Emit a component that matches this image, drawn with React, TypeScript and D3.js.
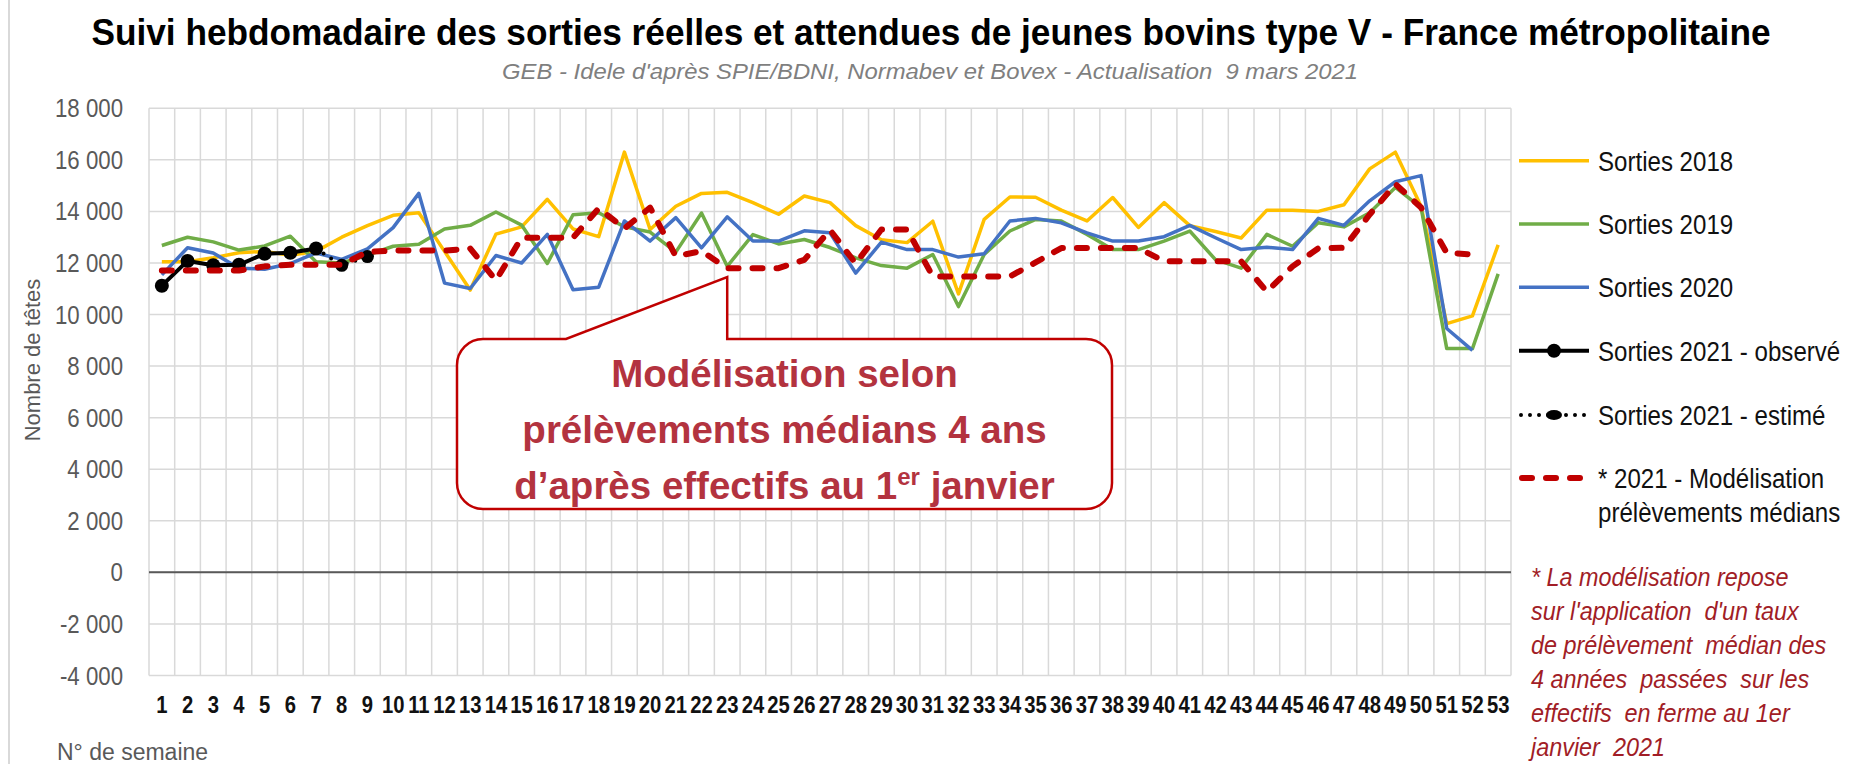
import React from 'react';
import * as d3 from 'd3';

// ---------- DATA ----------
const WEEKS: number[] = d3.range(1, 54);

const SORTIES_2018: (number | null)[] = [
  12050, 12050, 12200, 12400, 12450, 12300, 12450, 13000, 13450, 13850,
  13950, 12450, 10950, 13120, 13400, 14470, 13320, 13020, 16300, 13300,
  14200, 14700, 14740, 14340, 13890, 14600, 14340, 13450, 12900, 12790,
  13620, 10800, 13690, 14560, 14550, 14050, 13630, 14540, 13380, 14340,
  13450, 13220, 12970, 14050, 14050, 14000, 14260, 15650, 16300, 14200,
  9650, 9950, 12700,
];

const SORTIES_2019: (number | null)[] = [
  12680, 13000, 12820, 12500, 12660, 13040, 12050, 12000, 12300, 12650,
  12730, 13320, 13460, 13980, 13470, 11980, 13870, 13950, 13400, 13200,
  12420, 13940, 11870, 13100, 12740, 12910, 12600, 12200, 11900, 11800,
  12330, 10310, 12330, 13240, 13690, 13630, 13110, 12520, 12520, 12850,
  13240, 12130, 11800, 13110, 12650, 13560, 13400, 13950, 14930, 14150,
  8680, 8680, 11580,
];

const SORTIES_2020: (number | null)[] = [
  11540, 12590, 12390, 11800, 11760, 11980, 12390, 12140, 12550, 13370,
  14700, 11220, 11010, 12290, 12000, 13110, 10960, 11060, 13630, 12850,
  13760, 12590, 13790, 12850, 12850, 13250, 13170, 11610, 12810, 12520,
  12520, 12230, 12360, 13630, 13730, 13560, 13170, 12850, 12850, 13020,
  13460, 12980, 12520, 12610, 12520, 13730, 13460, 14410, 15150, 15390,
  9460, 8610, null,
];

const OBS_2021_WEEKS: number[] = [1, 2, 3, 4, 5, 6, 7];
const OBS_2021: number[] = [11120, 12080, 11910, 11930, 12360, 12400, 12560];

const EST_2021_WEEKS: number[] = [7, 8, 9];
const EST_2021: number[] = [12560, 11910, 12250];

const MODEL_2021: (number | null)[] = [
  11710, 11710, 11710, 11710, 11870, 11935, 11935, 11935, 12430, 12480,
  12480, 12480, 12560, 11330, 12980, 12980, 12980, 14120, 13340, 14150,
  12260, 12460, 11800, 11800, 11800, 12120, 13280, 11980, 13300, 13300,
  11480, 11480, 11480, 11480, 12020, 12580, 12580, 12580, 12580, 12065,
  12065, 12065, 12065, 10890, 11870, 12570, 12590, 13880, 15060, 14150,
  12390, 12330, null,
];

const Y_TICKS: number[] = [-4000, -2000, 0, 2000, 4000, 6000, 8000, 10000, 12000, 14000, 16000, 18000];

const TITLE = 'Suivi hebdomadaire des sorties réelles et attendues de jeunes bovins type V - France métropolitaine';
const SUBTITLE = "GEB - Idele d'après SPIE/BDNI, Normabev et Bovex - Actualisation  9 mars 2021";
const Y_LABEL = 'Nombre de têtes';
const X_LABEL = 'N° de semaine';

const LEGEND_LABELS: string[] = [
  'Sorties 2018',
  'Sorties 2019',
  'Sorties 2020',
  'Sorties 2021 - observé',
  'Sorties 2021 - estimé',
  '* 2021 - Modélisation',
];
const LEGEND_LABEL_2 = 'prélèvements médians';

const CALLOUT_LINES = ['Modélisation selon', 'prélèvements médians 4 ans'];
const CALLOUT_LINE3 = ['d’après effectifs au 1', 'er', ' janvier'];

const FOOTNOTE: string[] = [
  '* La modélisation repose',
  "sur l'application  d'un taux",
  'de prélèvement  médian des',
  '4 années  passées  sur les',
  'effectifs  en ferme au 1er',
  'janvier  2021',
];

// ---------- STYLE ----------
const C2018 = '#FFC000';
const C2019 = '#70AD47';
const C2020 = '#4472C4';
const CRED = '#C00000';
const FONT = '"Liberation Sans", Arial, Helvetica, sans-serif';
const GRID = '#D9D9D9';
const AXIS_TXT = '#595959';

const W = 1851;
const H = 764;
const PX0 = 149;
const PX1 = 1511;
const PY_TOP = 108.3;
const PY_BOT = 675.5;

function T(props: any) {
  const { x, y, sx = 1, children, ...rest } = props;
  return (
    <text transform={`translate(${x},${y}) scale(${sx},1)`} {...rest}>
      {children}
    </text>
  );
}

const fmt = (v: number) => {
  const s = Math.abs(v).toString();
  const body = s.length > 3 ? s.slice(0, s.length - 3) + ' ' + s.slice(s.length - 3) : s;
  return (v < 0 ? '-' : '') + body;
};

export default function App() {
  const x = d3.scaleBand<number>().domain(WEEKS).range([PX0, PX1]).padding(0);
  const bw = x.bandwidth();
  const xc = (w: number) => (x(w) as number) + bw / 2;
  const y = d3.scaleLinear().domain([-4000, 18000]).range([PY_BOT, PY_TOP]);

  const line = d3
    .line<{ w: number; v: number | null }>()
    .defined((d) => d.v != null)
    .x((d) => xc(d.w))
    .y((d) => y(d.v as number));

  const toPts = (ws: number[], vals: (number | null)[]) => ws.map((w, i) => ({ w, v: vals[i] }));

  const yearSeries = [
    { vals: SORTIES_2018, color: C2018 },
    { vals: SORTIES_2019, color: C2019 },
    { vals: SORTIES_2020, color: C2020 },
  ];

  // callout
  const L = 457, R = 1112, TT = 339, B = 509, r = 26;
  const tipX = xc(23);
  const tipY = y(11800) + 9;
  const calloutPath = `M${L + r},${TT} H566 L${tipX},${tipY} V${TT} H${R - r} A${r},${r} 0 0 1 ${R},${TT + r} V${B - r} A${r},${r} 0 0 1 ${R - r},${B} H${L + r} A${r},${r} 0 0 1 ${L},${B - r} V${TT + r} A${r},${r} 0 0 1 ${L + r},${TT} Z`;
  const calloutCx = (L + R) / 2;

  // legend
  const legY = [160.7, 224, 287.3, 350.7, 415, 478];
  const LX1 = 1519, LX2 = 1589, LTX = 1598;

  return (
    <svg
      width={W}
      height={H}
      viewBox={`0 0 ${W} ${H}`}
      style={{ position: 'absolute', left: 0, top: 0, background: '#fff', fontFamily: FONT }}
    >
      <rect x={0} y={0} width={W} height={H} fill="#fff" />
      <line x1={9} x2={9} y1={0} y2={H} stroke={GRID} strokeWidth={2} />

      {/* title */}
      <text
        x={931}
        y={45}
        textAnchor="middle"
        fontWeight="bold"
        fontSize={37}
        textLength={1679}
        lengthAdjust="spacingAndGlyphs"
        fill="#000"
      >
        {TITLE}
      </text>
      <text
        x={930}
        y={79}
        textAnchor="middle"
        fontStyle="italic"
        fontSize={21.5}
        textLength={856}
        lengthAdjust="spacingAndGlyphs"
        fill="#7F7F7F"
        style={{ whiteSpace: 'pre' }}
      >
        {SUBTITLE}
      </text>

      {/* grid */}
      {Y_TICKS.map((t) => (
        <line key={'h' + t} x1={PX0} x2={PX1} y1={y(t)} y2={y(t)} stroke={GRID} strokeWidth={1.5} />
      ))}
      {[...WEEKS.map((w) => x(w) as number), PX1].map((gx, i) => (
        <line key={'v' + i} x1={gx} x2={gx} y1={PY_TOP} y2={PY_BOT} stroke={GRID} strokeWidth={1.5} />
      ))}
      <line x1={PX0} x2={PX1} y1={y(0)} y2={y(0)} stroke="#595959" strokeWidth={2} />

      {/* y ticks */}
      {Y_TICKS.map((t) => (
        <T key={'yt' + t} x={123} y={y(t) + 9} sx={0.89} textAnchor="end" fontSize={25} fill={AXIS_TXT}>
          {fmt(t)}
        </T>
      ))}
      {/* x ticks */}
      {WEEKS.map((w) => (
        <T key={'xt' + w} x={xc(w)} y={713} sx={0.88} textAnchor="middle" fontSize={23} fontWeight="bold" fill="#111">
          {String(w)}
        </T>
      ))}

      {/* axis titles */}
      <text transform="translate(40,360) rotate(-90)" textAnchor="middle" fontSize={22} fill={AXIS_TXT}>
        {Y_LABEL}
      </text>
      <text x={57} y={760} fontSize={23} fill={AXIS_TXT}>
        {X_LABEL}
      </text>

      {/* series */}
      {yearSeries.map((s, i) => (
        <path
          key={'s' + i}
          d={line(toPts(WEEKS, s.vals)) || ''}
          fill="none"
          stroke={s.color}
          strokeWidth={3.5}
          strokeLinejoin="round"
        />
      ))}

      {/* 2021 estimated */}
      <path
        d={line(toPts(EST_2021_WEEKS, EST_2021)) || ''}
        fill="none"
        stroke="#000"
        strokeWidth={4}
        strokeDasharray="0,9"
        strokeLinecap="round"
      />
      {EST_2021_WEEKS.slice(1).map((w, i) => (
        <circle key={'e' + w} cx={xc(w)} cy={y(EST_2021[i + 1])} r={6.5} fill="#000" />
      ))}

      {/* 2021 observed */}
      <path
        d={line(toPts(OBS_2021_WEEKS, OBS_2021)) || ''}
        fill="none"
        stroke="#000"
        strokeWidth={4}
        strokeLinejoin="round"
      />
      {OBS_2021_WEEKS.map((w, i) => (
        <circle key={'o' + w} cx={xc(w)} cy={y(OBS_2021[i])} r={7} fill="#000" />
      ))}

      {/* model */}
      <path
        d={line(toPts(WEEKS, MODEL_2021)) || ''}
        fill="none"
        stroke={CRED}
        strokeWidth={6}
        strokeDasharray="10,14"
        strokeLinecap="round"
        strokeLinejoin="round"
      />

      {/* callout */}
      <path d={calloutPath} fill="#fff" stroke={CRED} strokeWidth={2.5} />
      {CALLOUT_LINES.map((t, i) => (
        <text
          key={'cl' + i}
          x={calloutCx}
          y={387 + i * 56}
          textAnchor="middle"
          fontWeight="bold"
          fontSize={38.5}
          fill="#B3333F"
        >
          {t}
        </text>
      ))}
      <text x={calloutCx} y={499} textAnchor="middle" fontWeight="bold" fontSize={38.5} fill="#B3333F">
        {CALLOUT_LINE3[0]}
        <tspan fontSize={24} dy={-14}>
          {CALLOUT_LINE3[1]}
        </tspan>
        <tspan dy={14}>{CALLOUT_LINE3[2]}</tspan>
      </text>

      {/* legend */}
      {[C2018, C2019, C2020].map((c, i) => (
        <line key={'ll' + i} x1={LX1} x2={LX2} y1={legY[i]} y2={legY[i]} stroke={c} strokeWidth={3.5} />
      ))}
      <line x1={LX1} x2={LX2} y1={legY[3]} y2={legY[3]} stroke="#000" strokeWidth={4} />
      <circle cx={(LX1 + LX2) / 2} cy={legY[3]} r={7} fill="#000" />
      <line
        x1={LX1 + 2}
        x2={LX2}
        y1={legY[4]}
        y2={legY[4]}
        stroke="#000"
        strokeWidth={4}
        strokeDasharray="0,9"
        strokeLinecap="round"
      />
      <ellipse cx={(LX1 + LX2) / 2} cy={legY[4]} rx={8} ry={5} fill="#000" />
      <line
        x1={LX1 + 3}
        x2={LX2}
        y1={legY[5]}
        y2={legY[5]}
        stroke={CRED}
        strokeWidth={6}
        strokeDasharray="10,14"
        strokeLinecap="round"
      />
      {LEGEND_LABELS.map((t, i) => (
        <T key={'lt' + i} x={LTX} y={legY[i] + 10} sx={0.86} fontSize={28} fill="#111">
          {t}
        </T>
      ))}
      <T x={LTX} y={legY[5] + 44} sx={0.86} fontSize={28} fill="#111">
        {LEGEND_LABEL_2}
      </T>

      {/* footnote */}
      {FOOTNOTE.map((t, i) => (
        <T
          key={'fn' + i}
          x={1531}
          y={586 + i * 34}
          sx={0.9}
          fontSize={26}
          fontStyle="italic"
          fill="#A11D26"
          style={{ whiteSpace: 'pre' }}
        >
          {t}
        </T>
      ))}
    </svg>
  );
}
